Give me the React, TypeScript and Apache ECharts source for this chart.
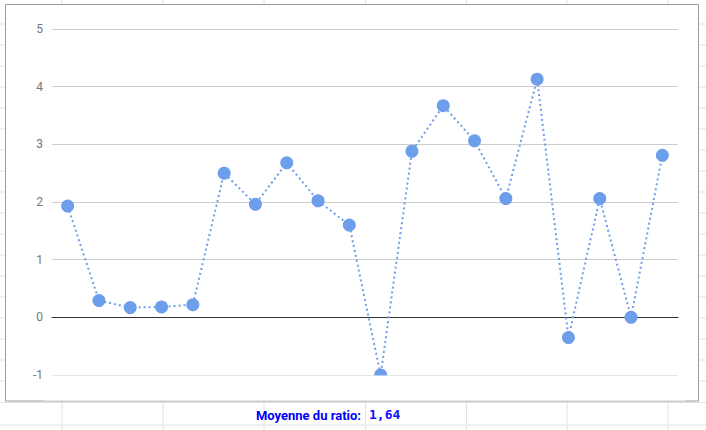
import React, { useEffect, useRef } from "react";
import * as echarts from "echarts";

const categories = ["1", "2", "3", "4", "5", "6", "7", "8", "9", "10", "11", "12", "13", "14", "15", "16", "17", "18", "19", "20"];
const ratioValues = [1.93, 0.29, 0.17, 0.18, 0.22, 2.5, 1.96, 2.68, 2.02, 1.6, -1.0, 2.88, 3.67, 3.06, 2.06, 4.13, -0.35, 2.06, 0.0, 2.81];
const yTicks = [-1, 0, 1, 2, 3, 4, 5];
const averageLabel = "Moyenne du ratio:";
const averageValue = "1,64";

const W = 706;
const H = 430;
const sheetCols = [62, 163, 264, 365.5, 466.5, 567, 668];
const sheetRows = [24, 45, 66, 87, 108, 129, 150, 171, 192, 213, 234, 255, 276, 297, 318, 339, 360, 381, 402.5, 425];

export default function App() {
  const ref = useRef<HTMLDivElement>(null);
  useEffect(() => {
    if (!ref.current) return;
    const chart = echarts.init(ref.current, null, { renderer: "svg", width: W, height: H });
    const gridLeft = 52;
    const gridRight = 28;
    const gridTop = 29;
    const gridBottom = 55;
    const sheetLine = "#e2e2e2";
    const graphics: any[] = [];
    sheetCols.forEach((x) => {
      graphics.push({ type: "line", silent: true, z: -10, shape: { x1: x, y1: 0, x2: x, y2: H }, style: { stroke: sheetLine, lineWidth: 1 } });
    });
    sheetRows.forEach((y) => {
      graphics.push({ type: "line", silent: true, z: -10, shape: { x1: 0, y1: y, x2: W, y2: y }, style: { stroke: sheetLine, lineWidth: 1 } });
    });
    // chart box
    graphics.push({
      type: "rect",
      silent: true,
      z: -5,
      shape: { x: 5.5, y: 4.5, width: 693, height: 396.5 },
      style: { fill: "#ffffff", stroke: "#9b9b9b", lineWidth: 1 },
    });
    // mask below plot area (clip symbols at bottom edge)
    graphics.push({
      type: "rect",
      silent: true,
      z: 100,
      shape: { x: gridLeft - 8, y: H - gridBottom + 0.6, width: W - gridLeft - gridRight + 16, height: 400.5 - (H - gridBottom + 0.6) },
      style: { fill: "#ffffff" },
    });
    graphics.push({
      type: "text",
      silent: true,
      z: 100,
      x: 361,
      y: 415,
      style: {
        text: averageLabel,
        fill: "#0000ff",
        font: "bold 13px Roboto",
        align: "right",
        verticalAlign: "middle",
      },
    });
    graphics.push({
      type: "text",
      silent: true,
      z: 100,
      x: 369,
      y: 414.5,
      style: {
        text: averageValue,
        fill: "#1010ff",
        font: "bold 13px 'DejaVu Sans Mono'",
        align: "left",
        verticalAlign: "middle",
      },
    });

    chart.setOption({
      animation: false,
      backgroundColor: "transparent",
      textStyle: { fontFamily: "Roboto" },
      grid: { left: gridLeft, right: gridRight, top: gridTop, bottom: gridBottom, containLabel: false },
      xAxis: {
        type: "category",
        data: categories,
        boundaryGap: true,
        axisLine: { show: true, onZero: true, lineStyle: { color: "#333333", width: 1 } },
        axisTick: { show: false },
        axisLabel: { show: false },
        splitLine: { show: false },
      },
      yAxis: {
        type: "value",
        min: yTicks[0],
        max: yTicks[yTicks.length - 1],
        interval: 1,
        axisLine: { show: false },
        axisTick: { show: false },
        axisLabel: { color: "#757575", fontSize: 12, fontFamily: "Roboto", margin: 9 },
        splitLine: { show: true, lineStyle: { color: "#cccccc", width: 1 } },
      },
      series: [
        {
          type: "line",
          data: ratioValues,
          symbol: "circle",
          symbolSize: 13,
          clip: false,
          itemStyle: { color: "#6d9eeb" },
          lineStyle: { color: "#6d9eeb", width: 2, type: [2, 3] },
        },
      ],
      graphic: graphics,
    });
    return () => chart.dispose();
  }, []);
  return (
    <div
      ref={ref}
      style={{ position: "fixed", left: 0, top: 0, width: W, height: H, background: "#ffffff" }}
    />
  );
}
